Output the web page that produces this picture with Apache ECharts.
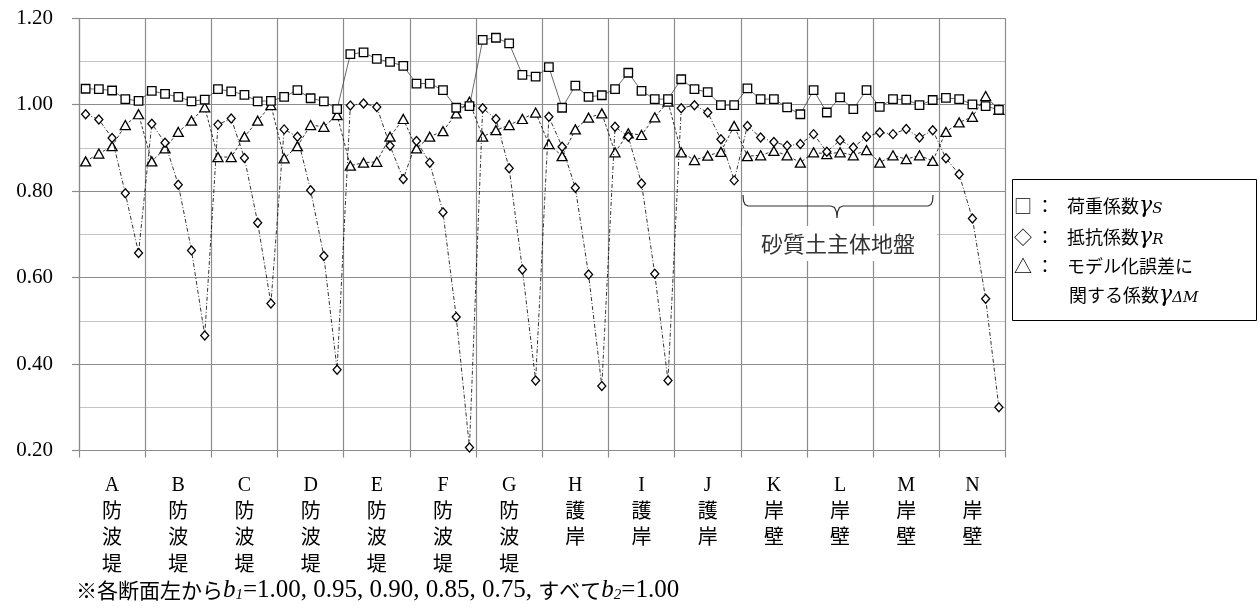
<!DOCTYPE html>
<html>
<head>
<meta charset="utf-8">
<script src="https://cdn.jsdelivr.net/npm/echarts@6/dist/echarts.min.js"></script>
<style>
html,body{margin:0;padding:0;background:#fff;}
#c{width:1260px;height:615px;}
</style>
</head>
<body>
<div id="c"></div>
<script>
// ---- data ----
const groups = ['A','B','C','D','E','F','G','H','I','J','K','L','M','N'];
const groupTypes = ['防波堤','防波堤','防波堤','防波堤','防波堤','防波堤','防波堤','護岸','護岸','護岸','岸壁','岸壁','岸壁','岸壁'];
const yTicks = [0.2, 0.4, 0.6, 0.8, 1.0, 1.2];
// 荷重係数 γS (squares), 5 points per section (b1 = 1.00, 0.95, 0.90, 0.85, 0.75)
const gammaS = [
  1.037,1.036,1.033,1.013,1.009,
  1.032,1.025,1.018,1.008,1.012,
  1.036,1.031,1.023,1.008,1.009,
  1.018,1.034,1.015,1.008,0.990,
  1.117,1.121,1.106,1.099,1.090,
  1.049,1.049,1.034,0.993,0.997,
  1.150,1.155,1.142,1.069,1.065,
  1.087,0.993,1.044,1.018,1.022,
  1.036,1.074,1.032,1.013,1.013,
  1.059,1.036,1.029,0.999,0.999,
  1.038,1.013,1.013,0.994,0.978,
  1.034,0.982,1.017,0.990,1.034,
  0.995,1.013,1.012,0.999,1.011,
  1.016,1.013,1.001,0.997,0.988
];
// 抵抗係数 γR (diamonds)
const gammaR = [
  0.978,0.966,0.923,0.795,0.657,
  0.956,0.912,0.815,0.663,0.466,
  0.954,0.968,0.877,0.727,0.540,
  0.943,0.926,0.802,0.650,0.387,
  0.998,1.003,0.995,0.905,0.828,
  0.916,0.866,0.751,0.509,0.207,
  0.992,0.967,0.853,0.619,0.362,
  0.972,0.903,0.808,0.607,0.349,
  0.949,0.926,0.818,0.609,0.362,
  0.992,0.999,0.982,0.920,0.825,
  0.951,0.924,0.914,0.905,0.909,
  0.932,0.891,0.918,0.901,0.926,
  0.936,0.932,0.944,0.924,0.941,
  0.876,0.839,0.737,0.551,0.300
];
// モデル化誤差に関する係数 γΔM (triangles)
const gammaDM = [
  0.869,0.887,0.904,0.953,0.978,
  0.869,0.899,0.937,0.963,0.994,
  0.879,0.879,0.926,0.963,0.999,
  0.876,0.904,0.953,0.949,0.976,
  0.859,0.866,0.868,0.926,0.967,
  0.899,0.926,0.939,0.980,1.007,
  0.926,0.941,0.953,0.967,0.982,
  0.909,0.881,0.943,0.970,0.980,
  0.890,0.934,0.930,0.971,1.007,
  0.890,0.872,0.882,0.891,0.951,
  0.881,0.883,0.893,0.883,0.866,
  0.890,0.886,0.890,0.883,0.895,
  0.866,0.883,0.874,0.883,0.870,
  0.937,0.959,0.972,1.020,0.988
];
const PER_GROUP = 5;

// ---- build ----
const SERIF = "'Liberation Serif', 'Noto Sans CJK JP', serif";
const CJK = "'Noto Sans CJK JP', sans-serif";
const toXY = arr => arr.map((v, i) => [i + 0.5, v]);
const catLabels = groups.map((g, i) => g + '\n' + groupTypes[i].split('').join('\n'));
const nPts = groups.length * PER_GROUP;

const chart = echarts.init(document.getElementById('c'), null, {renderer: 'canvas'});

const legendRich = {
  t: {fontFamily: CJK, fontSize: 18, color: '#000'},
  g: {fontFamily: "'DejaVu Serif', serif", fontStyle: 'italic', fontSize: 22, color: '#000'},
  s: {fontFamily: "'DejaVu Serif', serif", fontStyle: 'italic', fontSize: 15, color: '#000', verticalAlign: 'bottom', lineHeight: 12}
};
const footRich = {
  t: {fontFamily: CJK, fontSize: 21, color: '#000'},
  n: {fontFamily: "'Liberation Serif', serif", fontSize: 25, color: '#000'},
  b: {fontFamily: "'Liberation Serif', serif", fontStyle: 'italic', fontSize: 25, color: '#000'},
  s: {fontFamily: "'Liberation Serif', serif", fontStyle: 'italic', fontSize: 15, color: '#000', verticalAlign: 'bottom', lineHeight: 13}
};
const legendChar = (ch, x, y, align) => ({
  type: 'text', z: 11, x: x, y: y,
  style: {text: ch, font: "18px 'Noto Sans CJK JP'", fill: '#000', align: align || 'left', verticalAlign: 'middle'}
});

const option = {
  backgroundColor: '#fff',
  animation: false,
  grid: {left: 79, right: 254.5, top: 18.3, bottom: 164.5, containLabel: false},
  xAxis: [
    {
      type: 'value', min: 0, max: nPts, interval: PER_GROUP,
      axisLine: {show: true, lineStyle: {color: '#8c8c8c', width: 1.2}},
      axisTick: {show: true, length: 7, lineStyle: {color: '#8c8c8c', width: 1.2}},
      axisLabel: {show: false},
      splitLine: {show: true, lineStyle: {color: '#8c8c8c', width: 1.2}}
    },
    {
      type: 'category', data: catLabels, position: 'bottom', boundaryGap: true,
      axisLine: {show: false}, axisTick: {show: false}, splitLine: {show: false},
      axisLabel: {interval: 0, margin: 22, fontFamily: SERIF, fontSize: 20, lineHeight: 26.5, color: '#000', align: 'center'}
    }
  ],
  yAxis: {
    type: 'value', min: yTicks[0], max: yTicks[yTicks.length - 1], interval: 0.2,
    axisLine: {show: true, lineStyle: {color: '#8c8c8c', width: 1.2}},
    axisTick: {show: true, length: 7, lineStyle: {color: '#8c8c8c', width: 1.2}},
    axisLabel: {margin: 26, fontFamily: SERIF, fontSize: 21, color: '#000', formatter: v => v.toFixed(2)},
    splitLine: {show: true, lineStyle: {color: '#8c8c8c', width: 1.2}},
    minorTick: {show: false, splitNumber: 2},
    minorSplitLine: {show: true, lineStyle: {color: '#c4c4c4', width: 1.2}}
  },
  series: [
    {
      name: 'gammaDM', type: 'line', xAxisIndex: 0, data: toXY(gammaDM),
      symbol: 'triangle', symbolSize: [10, 9], showAllSymbol: true,
      lineStyle: {color: '#000', width: 0.8, type: [3, 2]},
      itemStyle: {color: '#fff', borderColor: '#000', borderWidth: 1.3},
      emphasis: {disabled: true}, z: 3
    },
    {
      name: 'gammaR', type: 'line', xAxisIndex: 0, data: toXY(gammaR),
      symbol: 'diamond', symbolSize: [8, 9], showAllSymbol: true,
      lineStyle: {color: '#000', width: 0.8, type: [4, 2, 1, 2]},
      itemStyle: {color: '#fff', borderColor: '#000', borderWidth: 1.3},
      emphasis: {disabled: true}, z: 4
    },
    {
      name: 'gammaS', type: 'line', xAxisIndex: 0, data: toXY(gammaS),
      symbol: 'rect', symbolSize: 8.5, showAllSymbol: true,
      lineStyle: {color: '#444', width: 0.8, type: 'solid'},
      itemStyle: {color: '#fff', borderColor: '#000', borderWidth: 1.3},
      emphasis: {disabled: true}, z: 5
    }
  ],
  graphic: [
    // bracket
    {
      type: 'polyline', z: 10,
      shape: {points: [[743,195],[743.5,201],[745,204.5],[748,206],[831,206],[834.5,207.5],[836.5,212],[837,218],[837.5,212],[839.5,207.5],[843,206],[928,206],[931,204.5],[932.5,201],[933,195]]},
      style: {fill: null, stroke: '#333', lineWidth: 1.2}
    },
    {
      type: 'rect', z: 10, shape: {x: 742, y: 226, width: 195, height: 35},
      style: {fill: '#fff', stroke: null}
    },
    {
      type: 'text', z: 11, x: 838, y: 244,
      style: {text: '砂質土主体地盤', font: "22px 'Noto Sans CJK JP'", fill: '#333', align: 'center', verticalAlign: 'middle'}
    },
    // legend box
    {
      type: 'rect', z: 10, shape: {x: 1012.5, y: 179.5, width: 244, height: 141},
      style: {fill: '#fff', stroke: '#000', lineWidth: 1}
    },
    legendChar('□', 1014, 206), legendChar('◇', 1014, 237), legendChar('△', 1014, 266),
    legendChar('：', 1045, 206, 'center'), legendChar('：', 1045, 237, 'center'), legendChar('：', 1045, 266, 'center'),
    {type: 'text', z: 11, x: 1067, y: 206, style: {text: '{t|荷重係数}{g|γ}{s|S}', rich: legendRich, verticalAlign: 'middle'}},
    {type: 'text', z: 11, x: 1067, y: 237, style: {text: '{t|抵抗係数}{g|γ}{s|R}', rich: legendRich, verticalAlign: 'middle'}},
    {type: 'text', z: 11, x: 1067, y: 266, style: {text: '{t|モデル化誤差に}', rich: legendRich, verticalAlign: 'middle'}},
    {type: 'text', z: 11, x: 1069, y: 295, style: {text: '{t|関する係数}{g|γ}{s|ΔM}', rich: legendRich, verticalAlign: 'middle'}},
    // footnote
    {
      type: 'text', z: 11, x: 76, y: 590,
      style: {text: '{t|※各断面左から}{b|b}{s|1}{n|=1.00, 0.95, 0.90, 0.85, 0.75, }{t|すべて}{b|b}{s|2}{n|=1.00}', rich: footRich, verticalAlign: 'middle'}
    }
  ]
};
chart.setOption(option);
</script>
</body>
</html>
